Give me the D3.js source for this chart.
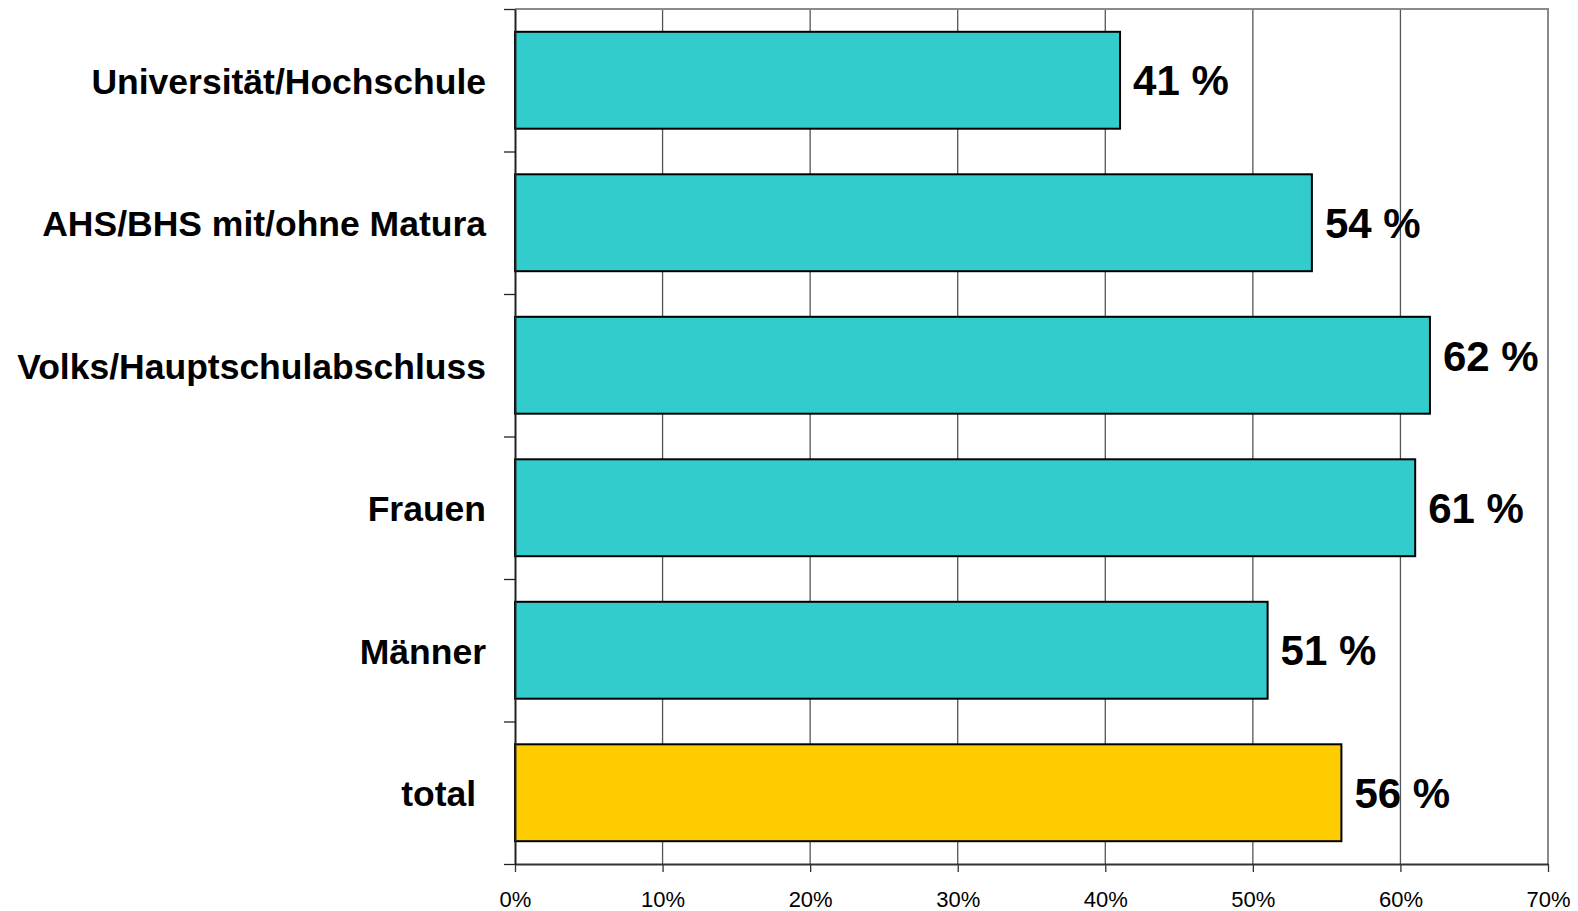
<!DOCTYPE html>
<html>
<head>
<meta charset="utf-8">
<script src="https://cdn.jsdelivr.net/npm/d3@7"></script>
<style>
  body { margin: 0; background: #fff; }
  svg { display: block; font-family: "Liberation Sans", Arial, sans-serif; }
</style>
</head>
<body>
<div id="chart"></div>
<script>
const categories = ['Universität/Hochschule', 'AHS/BHS mit/ohne Matura', 'Volks/Hauptschulabschluss', 'Frauen', 'Männer', 'total ']
const values = [41, 54, 62, 61, 51, 56]
const xTicks = [0, 10, 20, 30, 40, 50, 60, 70]

const data = categories.map((c, i) => ({cat: c, value: values[i]}))

const W = 1578, H = 911
const margin = {top: 9, right: 30, bottom: 47, left: 515}
const width = 1548 - margin.left
const height = 864 - margin.top

const svg = d3.select('#chart').append('svg')
  .attr('width', W)
  .attr('height', H)

const chart = svg.append('g').attr('transform', `translate(${margin.left},${margin.top})`)

const x = d3.scaleLinear().domain([0, 70]).range([0, width])
const y = d3.scaleBand().domain(categories).range([0, height]).paddingInner(0.32).paddingOuter(0.16)
// boundaries between the categories, for the little ticks on the left
const yEdges = d3.scaleLinear().domain([0, categories.length]).range([0, height])

// vertical gridlines
chart.append('g').selectAll('line')
  .data(xTicks.slice(1, -1))
  .enter().append('line')
  .attr('x1', d => x(d)).attr('x2', d => x(d))
  .attr('y1', 0).attr('y2', height)
  .attr('stroke', '#555')
  .attr('stroke-width', 1.3)

// top + right frame
chart.append('path')
  .attr('d', `M0,0H${width}V${height}`)
  .attr('fill', 'none')
  .attr('stroke', '#8a8a8a')
  .attr('stroke-width', 2)

chart.append('g').selectAll('rect')
  .data(data)
  .enter().append('rect')
  .attr('x', x(0))
  .attr('y', d => y(d.cat))
  .attr('width', d => x(d.value) - x(0))
  .attr('height', y.bandwidth())
  .attr('fill', d => d.cat.trim() === 'total' ? '#ffcc00' : '#33cccc')
  .attr('stroke', '#000')
  .attr('stroke-width', 2)

// x axis
const xAxis = chart.append('g')
  .attr('transform', `translate(0,${height})`)
  .call(d3.axisBottom(x).tickValues(xTicks).tickFormat(d => d + '%').tickSize(8).tickSizeOuter(0).tickPadding(19))
xAxis.select('.domain').attr('stroke', '#333').attr('stroke-width', 2)
xAxis.selectAll('.tick line').attr('stroke', '#333').attr('stroke-width', 1.3)
xAxis.selectAll('.tick text')
  .attr('font-size', 22)
  .attr('font-family', '"Liberation Sans", Arial, sans-serif')
  .attr('fill', '#000')

// y axis ticks (between categories)
const yTickAxis = chart.append('g')
  .call(d3.axisLeft(yEdges).tickValues(d3.range(0, categories.length + 1)).tickFormat('').tickSize(11).tickSizeOuter(0))
yTickAxis.select('.domain').attr('stroke', '#222').attr('stroke-width', 2)
yTickAxis.selectAll('.tick line').attr('stroke', '#222').attr('stroke-width', 1.3)

// category labels
const yAxis = chart.append('g')
  .call(d3.axisLeft(y).tickSize(0).tickPadding(29))
yAxis.select('.domain').remove()
yAxis.selectAll('.tick text')
  .attr('font-size', 35.5)
  .attr('font-weight', 'bold')
  .attr('font-family', '"Liberation Sans", Arial, sans-serif')
  .attr('fill', '#000')
  .attr('dy', '0.38em')
  .style('white-space', 'pre')

// value labels
chart.append('g').selectAll('text')
  .data(data)
  .enter().append('text')
  .attr('x', d => x(d.value) + 13)
  .attr('y', d => y(d.cat) + y.bandwidth() / 2)
  .attr('dy', '0.36em')
  .attr('font-size', 42)
  .attr('font-weight', 'bold')
  .attr('fill', '#000')
  .text(d => d.value + ' %')
  .each(function () {
    // push the label up a bit when it would run into the frame
    const box = this.getBBox()
    if (box.x + box.width > width - 18) d3.select(this).attr('y', +d3.select(this).attr('y') - 9)
  })
</script>
</body>
</html>
